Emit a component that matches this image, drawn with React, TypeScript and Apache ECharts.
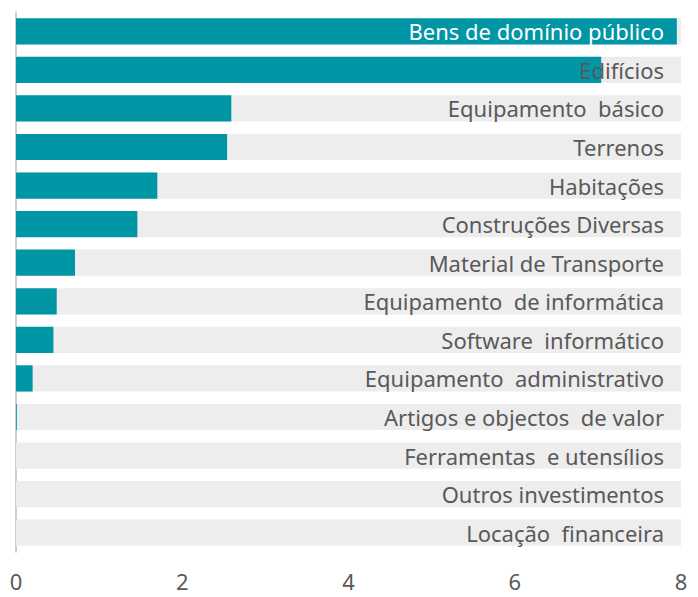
import React, { useEffect, useRef } from "react";
import * as echarts from "echarts";

const categories = [
  "Bens de domínio público",
  "Edifícios",
  "Equipamento  básico",
  "Terrenos",
  "Habitações",
  "Construções Diversas",
  "Material de Transporte",
  "Equipamento  de informática",
  "Software  informático",
  "Equipamento  administrativo",
  "Artigos e objectos  de valor",
  "Ferramentas  e utensílios",
  "Outros investimentos",
  "Locação  financeira",
];

const values = [7.95, 7.04, 2.59, 2.54, 1.7, 1.46, 0.71, 0.49, 0.45, 0.2, 0.01, 0, 0, 0];

const xTicks = [0, 2, 4, 6, 8];

export default function App() {
  const ref = useRef<HTMLDivElement>(null);
  useEffect(() => {
    if (!ref.current) return;
    const chart = echarts.init(ref.current, undefined, { renderer: "svg" });
    const font = "'Noto Sans', sans-serif";
    chart.setOption({
      animation: false,
      grid: { left: 16, right: 17, top: 12, bottom: 45, containLabel: false },
      xAxis: {
        type: "value",
        min: xTicks[0],
        max: xTicks[xTicks.length - 1],
        interval: 2,
        axisLine: { show: false },
        axisTick: { show: false },
        splitLine: { show: false },
        axisLabel: { color: "#595959", fontSize: 22, lineHeight: 22, fontFamily: font, margin: 18 },
      },
      yAxis: [
        {
          type: "category",
          data: categories,
          inverse: true,
          position: "left",
          axisLine: { show: true, lineStyle: { color: "#BFBFBF", width: 1.5 } },
          axisTick: { show: false },
          axisLabel: { show: false },
        },
        {
          type: "category",
          data: categories,
          inverse: true,
          position: "right",
          z: 10,
          axisLine: { show: false },
          axisTick: { show: false },
          axisLabel: {
            inside: true,
            margin: 17,
            fontSize: 22,
            fontFamily: font,
            color: (_v: string, i: number) => (i === 0 ? "#FFFFFF" : "#595959"),
          },
        },
      ],
      series: [
        {
          type: "bar",
          data: values,
          yAxisIndex: 0,
          barCategoryGap: "32%",
          itemStyle: { color: "#0096A5" },
          showBackground: true,
          backgroundStyle: { color: "#EDEDED" },
        },
      ],
    });
    return () => chart.dispose();
  }, []);
  return <div ref={ref} style={{ width: 698, height: 597, position: "absolute", left: 0, top: 0 }} />;
}
